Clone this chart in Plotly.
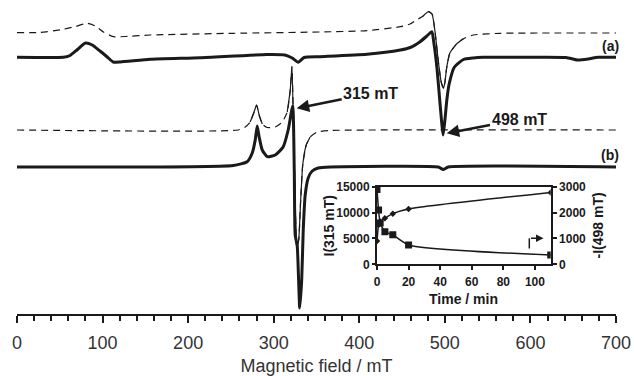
import plotly.graph_objects as go

# ---------------- data ----------------
# EPR spectra: field in mT, signal relative to each trace's own baseline (arb. units, up = positive)
FIELD_A_SOLID = [0, 54, 62, 70, 80, 88, 97, 105.5, 112.5, 120.7, 155.7, 214, 292, 313, 321.6, 328.6,
                 335.6, 354, 409, 448, 459.5, 471, 479, 484.8, 487.5, 491, 494.5, 498, 500.3, 502.3,
                 505, 511.2, 521.7, 533, 544.7, 588, 641.7, 654.6, 667.6, 679, 700]
SIGNAL_A_SOLID = [0, 0, 1.8, 7.3, 14.3, 12.3, 6.3, 0.3, -4.7, -4.7, -2, -0.4, 2.8, 2.3, -0.7, -5,
                  -0.2, 0.6, 3, 7.3, 9.8, 15.6, 21.3, 25.6, 12.3, -12.7, -47.7, -77.7, -60.7, -42.7,
                  -26.7, -9.7, -2.2, -0.7, 0, 0, -0.2, -2.7, -1.7, 0, 0]

FIELD_A_DASH = [0, 27, 54, 68, 82.5, 91.5, 101, 112.5, 126.5, 155.7, 252.7, 354, 409, 448, 459.5, 467,
                474.6, 480.8, 485, 488.7, 492.2, 495.7, 498.4, 500, 502.3, 506, 514, 521.7, 533.4,
                564.6, 700]
SIGNAL_A_DASH = [0, 0.2, 3.4, 6.2, 9.4, 6.7, 0.7, -4, -3.8, -2.3, -0.6, 0.7, 2, 6, 8.7, 12.7,
                 16.7, 21, 18.7, -0.3, -27.3, -49.3, -55.6, -50, -34, -20, -11, -6, -2.3,
                 -0.6, -0.3]

FIELD_B_DASH = [0, 258.5, 266.7, 272.5, 276.6, 280, 283, 286.6, 292.4, 301.8, 310, 315.8, 319.3, 321.3,
                323.4, 325.1, 326.9, 329.2, 331.5, 333.9, 338, 342.6, 350.8, 366, 700]
SIGNAL_B_DASH = [0, 0, 3, 8, 17, 25, 15, 6, 2.5, 3, 8, 18, 40, 63.3,
                 -10, -70, -118, -110, -70, -35, -15, -7, -2, -0.5, 0]

FIELD_B_SOLID = [0, 252.7, 269, 274.9, 278.4, 280.7, 283, 286.6, 292.4, 301.8, 311, 316.9, 322.2, 324,
                 325.1, 327.5, 330.4, 332.7, 334.5, 336.8, 340.3, 345, 352, 366, 492.2, 498, 503.9, 700]
SIGNAL_B_SOLID = [0, 1.5, 5.3, 14, 27, 41, 30, 17, 10.3, 12, 20, 37, 61, -3,
                  -68, -79, -141, -113, -63, -28, -11, -4, -1, 0, 0, -2.5, 0, 0]

# inset kinetics
TIME_MIN = [0, 1, 2, 5, 10, 20, 110]
I_315 = [4500, 7600, 8300, 8900, 9800, 10700, 13900]
MINUS_I_498 = [2900, 2100, 1600, 1260, 1140, 750, 360]

MAIN_TICKS = list(range(0, 701, 100))
INSET_X_TICKS = [0, 20, 40, 60, 80, 100]
INSET_Y_LEFT_TICKS = [0, 5000, 10000, 15000]
INSET_Y_RIGHT_TICKS = [0, 1000, 2000, 3000]

# ---------------- layout / style ----------------
W, H = 634, 376
ML, MR, MT, MB = 17, 18, 0, 62
PW, PH = W - ML - MR, H - MT - MB
FONT = "Arial, Liberation Sans, sans-serif"
INK = "#1a1a1a"

# vertical stacking of the four traces (data units, 0..PH)
OFFSETS = {"a_dash": PH - 32.7, "a_solid": PH - 57.3, "b_dash": PH - 130, "b_solid": PH - 167}
SOLID_WINDOWS = {"a_dash": [(474, 524)], "b_dash": [(271, 288), (313, 346)]}


def pp(x, y):
    """pixel -> paper"""
    return (x - ML) / PW, (MT + PH - y) / PH


def shifted(vals, off):
    return [v + off for v in vals]


def masked(xs, ys, windows):
    out = []
    for x, y in zip(xs, ys):
        out.append(y if any(a <= x <= b for a, b in windows) else None)
    return out


fig = go.Figure()
spline = dict(shape="spline", smoothing=0.5)

ya = shifted(SIGNAL_A_DASH, OFFSETS["a_dash"])
fig.add_trace(go.Scatter(x=FIELD_A_DASH, y=ya, mode="lines",
                         line=dict(color=INK, width=1.2, dash="7px,5px", **spline)))
fig.add_trace(go.Scatter(x=FIELD_A_DASH, y=masked(FIELD_A_DASH, ya, SOLID_WINDOWS["a_dash"]),
                         mode="lines", line=dict(color=INK, width=1.2, **spline)))
fig.add_trace(go.Scatter(x=FIELD_A_SOLID, y=shifted(SIGNAL_A_SOLID, OFFSETS["a_solid"]), mode="lines",
                         line=dict(color=INK, width=3, **spline)))
yb = shifted(SIGNAL_B_DASH, OFFSETS["b_dash"])
fig.add_trace(go.Scatter(x=FIELD_B_DASH, y=yb, mode="lines",
                         line=dict(color=INK, width=1.2, dash="7px,5px", **spline)))
fig.add_trace(go.Scatter(x=FIELD_B_DASH, y=masked(FIELD_B_DASH, yb, SOLID_WINDOWS["b_dash"]),
                         mode="lines", line=dict(color=INK, width=1.2, **spline)))
fig.add_trace(go.Scatter(x=FIELD_B_SOLID, y=shifted(SIGNAL_B_SOLID, OFFSETS["b_solid"]), mode="lines",
                         line=dict(color=INK, width=3, **spline)))

# inset
fig.add_trace(go.Scatter(x=TIME_MIN, y=I_315, mode="lines+markers", xaxis="x2", yaxis="y2",
                         line=dict(color=INK, width=1.5, shape="spline", smoothing=0.6),
                         marker=dict(symbol="diamond", size=5, color=INK)))
fig.add_trace(go.Scatter(x=TIME_MIN, y=MINUS_I_498, mode="lines+markers", xaxis="x2", yaxis="y3",
                         line=dict(color=INK, width=1.5, shape="spline", smoothing=0.6),
                         marker=dict(symbol="square", size=7, color=INK)))

ix0, iy0 = pp(377, 264.3)
ix1, iy1 = pp(550.7, 186.8)
bold12 = dict(family=FONT, size=12, color=INK, weight="bold")

fig.update_layout(
    width=W, height=H, margin=dict(l=ML, r=MR, t=MT, b=MB, autoexpand=False),
    paper_bgcolor="white", plot_bgcolor="white", showlegend=False,
    font=dict(family=FONT, color="#333"),
    xaxis=dict(range=[0, 700], tickvals=MAIN_TICKS, showgrid=False, zeroline=False, automargin=False,
               showline=True, linewidth=2, linecolor=INK, ticks="outside", ticklen=7, tickwidth=2,
               tickcolor=INK, minor=dict(dtick=20, ticks="outside", ticklen=5, tickwidth=2, tickcolor=INK),
               tickfont=dict(family=FONT, size=18, color="#333"), ticklabelstandoff=4,
               title=dict(text="Magnetic field / mT", font=dict(family=FONT, size=18, color="#333"),
                          standoff=8)),
    yaxis=dict(range=[0, PH], visible=False, automargin=False),
    xaxis2=dict(domain=[ix0, ix1], anchor="y2", range=[0, 110], tickvals=INSET_X_TICKS, automargin=False,
                showgrid=False, zeroline=False, showline=True, mirror=True, linewidth=2, linecolor=INK,
                ticks="outside", ticklen=4, tickwidth=2, tickcolor=INK, tickfont=bold12,
                ticklabelstandoff=1),
    yaxis2=dict(domain=[iy0, iy1], anchor="x2", range=[0, 15000], tickvals=INSET_Y_LEFT_TICKS,
                automargin=False,
                tickformat="d", showgrid=False, zeroline=False, showline=True, mirror=True, linewidth=2,
                linecolor=INK, ticks="outside", ticklen=3, tickwidth=2, tickcolor=INK, tickfont=bold12),
    yaxis3=dict(overlaying="y2", side="right", anchor="x2", range=[0, 3000], tickvals=INSET_Y_RIGHT_TICKS,
                automargin=False,
                tickformat="d", showgrid=False, zeroline=False, showline=True, linewidth=2, linecolor=INK,
                ticks="outside", ticklen=4, tickwidth=2, tickcolor=INK, tickfont=bold12),
)

ann = []


def text_at(x, y, s, size, angle=0, bold=True):
    px_, py_ = pp(x, y)
    ann.append(dict(x=px_, y=py_, xref="paper", yref="paper", text=s, showarrow=False,
                    textangle=angle, xanchor="center", yanchor="middle",
                    font=dict(family=FONT, size=size, color=INK, weight="bold" if bold else "normal")))


def arrow_label(tx, ty, cx, cy, s, size):
    px_, py_ = pp(tx, ty)
    ann.append(dict(x=px_, y=py_, xref="paper", yref="paper", text=s, showarrow=True,
                    ax=cx - tx, ay=cy - ty, arrowhead=2, arrowsize=1, arrowwidth=2.5, arrowcolor=INK,
                    font=dict(family=FONT, size=size, color=INK, weight="bold")))


text_at(610, 46, "(a)", 14)
text_at(610, 155.5, "(b)", 14)
arrow_label(296.7, 108.3, 370.7, 93.3, "315 mT", 16)
arrow_label(446.7, 133.3, 519, 119.3, "498 mT", 16)
text_at(328, 226.5, "I(315 mT)", 14, angle=-90)
text_at(597, 225.5, "-I(498 mT)", 14, angle=-90)
text_at(463, 299, "Time / min", 14)

# small right-pointing axis marker inside the inset
hx, hy = pp(543.5, 238.3)
ann.append(dict(x=hx, y=hy, xref="paper", yref="paper", text="", showarrow=True, ax=-14, ay=0,
                arrowhead=2, arrowsize=1, arrowwidth=1.5, arrowcolor=INK))
fig.update_layout(annotations=ann)
v0 = pp(529.3, 248.5)
v1 = pp(529.3, 238.3)
fig.add_shape(type="line", xref="paper", yref="paper", x0=v0[0], y0=v0[1], x1=v1[0], y1=v1[1],
              line=dict(color=INK, width=1.5))

fig.write_html("out.html", config={"displayModeBar": False},
               post_script="document.body.style.margin='0';")
